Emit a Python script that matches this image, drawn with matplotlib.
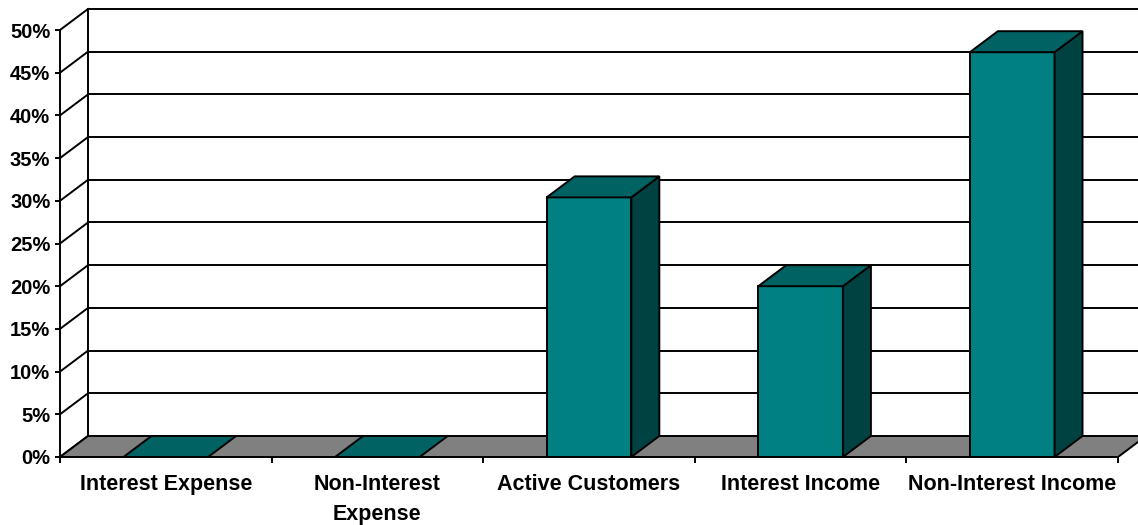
import matplotlib
matplotlib.use("Agg")
import matplotlib.pyplot as plt
from matplotlib.patches import Polygon

plt.rcParams['font.family'] = ['Liberation Sans', 'DejaVu Sans']
plt.rcParams['font.weight'] = 'bold'

# chart data
categories = ['Interest Expense', 'Non-Interest\nExpense', 'Active Customers',
              'Interest Income', 'Non-Interest Income']
values = [0.0, 0.0, 30.4, 20.0, 47.4]
y_ticks = list(range(0, 55, 5))
y_labels = [f'{t}%' for t in y_ticks]

# colours
FRONT = '#008080'
TOP = '#006262'
SIDE = '#004242'
FLOOR = '#808080'
LW = 1.4

# depth offset of the 3d box (data units)
DX = 0.1323
DY = 2.46
BAR_W = 0.40
YMAX = 50

fig = plt.figure(figsize=(11.38, 5.25), dpi=100)
# axes origin sits at the front-left corner of the floor
ax = fig.add_axes([60 / 1138, 68 / 525, 1078 / 1138, 457 / 525])
ax.set_xlim(0, 1078 / 211.6)
ax.set_ylim(0, 457 / 8.54)

# back wall grid lines
for v in y_ticks[1:]:
    ax.plot([DX, 6], [v + DY, v + DY], color='black', lw=LW, zorder=1,
            solid_capstyle='butt')
# side wall: diagonals and back corner
for v in y_ticks:
    ax.plot([0, DX], [v, v + DY], color='black', lw=LW, zorder=1)
ax.plot([DX, DX], [DY, YMAX + DY], color='black', lw=LW, zorder=1)

# floor
n = len(categories)
ax.add_patch(Polygon([(0, 0), (n, 0), (n + DX, DY), (DX, DY)], closed=True,
                     facecolor=FLOOR, edgecolor='black', lw=LW, zorder=2))

# bars
for i, v in enumerate(values):
    x0 = i + 0.5 - BAR_W / 2
    x1 = i + 0.5 + BAR_W / 2
    ec = dict(edgecolor='black', lw=LW, zorder=3, joinstyle='miter')
    if v > 0:
        ax.add_patch(Polygon([(x0, 0), (x1, 0), (x1, v), (x0, v)],
                             facecolor=FRONT, **ec))
        ax.add_patch(Polygon([(x1, 0), (x1 + DX, DY), (x1 + DX, v + DY), (x1, v)],
                             facecolor=SIDE, **ec))
    ax.add_patch(Polygon([(x0, v), (x1, v), (x1 + DX, v + DY), (x0 + DX, v + DY)],
                         facecolor=TOP, **ec))

# axes lines and ticks
for s in ['top', 'right']:
    ax.spines[s].set_visible(False)
ax.spines['left'].set_bounds(0, YMAX)
ax.spines['bottom'].set_bounds(0, n)
for s in ['left', 'bottom']:
    ax.spines[s].set_linewidth(LW)
    ax.spines[s].set_zorder(5)
ax.set_facecolor('none')

ax.set_yticks(y_ticks)
ax.set_yticklabels(y_labels)
ax.set_xticks(range(n + 1))
ax.set_xticklabels([''] * (n + 1))
ax.set_xticks([i + 0.5 for i in range(n)], minor=True)
ax.set_xticklabels(categories, minor=True, linespacing=1.6)
ax.tick_params(axis='y', direction='out', length=3.6, width=LW, pad=3.4,
               labelsize=14.5)
ax.tick_params(axis='x', which='major', direction='out', length=4.3, width=LW)
ax.tick_params(axis='x', which='minor', length=0, pad=12, labelsize=15.5)
for lab in ax.get_xticklabels(minor=True) + ax.get_yticklabels():
    lab.set_fontweight('bold')

fig.savefig('out.png', dpi=100)
